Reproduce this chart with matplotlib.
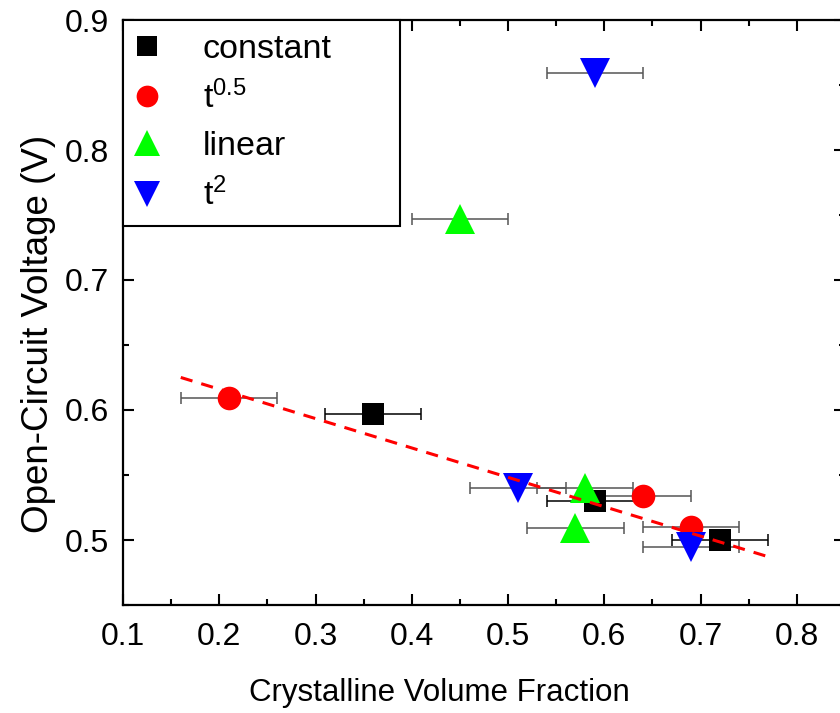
import numpy as np
import matplotlib
matplotlib.use('Agg')
import matplotlib.pyplot as plt
from matplotlib.ticker import MultipleLocator

plt.rcParams['font.family'] = ['Liberation Sans', 'DejaVu Sans']

# data
const_x = [0.36, 0.59, 0.72]
const_y = [0.597, 0.530, 0.500]
sqrt_x = [0.21, 0.64, 0.69]
sqrt_y = [0.609, 0.534, 0.510]
lin_x = [0.45, 0.58, 0.57]
lin_y = [0.747, 0.540, 0.509]
sq_x = [0.59, 0.51, 0.69]
sq_y = [0.859, 0.540, 0.495]
x_err = 0.05

# linear fit shown as dashed line
fit_slope = -0.226
fit_icpt = 0.6612
fit_range = [0.16, 0.77]

series = [
    (const_x, const_y, 's', 'black', 15.5, 'black', 'constant'),
    (sqrt_x, sqrt_y, 'o', 'red', 17, '#555555', r'$\mathregular{t^{0.5}}$'),
    (lin_x, lin_y, '^', '#00ff00', 21, '#555555', 'linear'),
    (sq_x, sq_y, 'v', 'blue', 21, '#555555', r'$\mathregular{t^{2}}$'),
]

fig = plt.figure(figsize=(8.4, 7.13), dpi=100)
ax = fig.add_axes([123/840, (713-605)/713, (845-123)/840, (605-20)/713])

for xs, ys, m, c, ms, ec, lab in series:
    ax.errorbar(xs, ys, xerr=x_err, fmt='none', ecolor=ec, elinewidth=1.1,
                capsize=4.5, capthick=1.1, zorder=2)
    ax.plot(xs, ys, linestyle='none', marker=m, color=c, markersize=ms,
            markeredgewidth=0, label=lab, zorder=3)

fx = np.array(fit_range)
ax.plot(fx, fit_icpt + fit_slope * fx, color='red', linestyle=(0, (4, 3)),
        linewidth=2.2, zorder=4)

ax.set_xlim(0.1, 0.85)
ax.set_ylim(0.45, 0.9)
ax.xaxis.set_major_locator(MultipleLocator(0.1))
ax.xaxis.set_minor_locator(MultipleLocator(0.05))
ax.yaxis.set_major_locator(MultipleLocator(0.1))
ax.yaxis.set_minor_locator(MultipleLocator(0.05))
ax.tick_params(which='both', direction='in', top=True, right=True, width=1.5,
               labelsize=23)
ax.tick_params(which='major', length=8)
ax.tick_params(which='minor', length=4.5)
ax.tick_params(axis='x', pad=12)
ax.tick_params(axis='y', pad=10)
for s in ax.spines.values():
    s.set_linewidth(1.6)

ax.set_xlabel('Crystalline Volume Fraction', fontsize=22.5)
ax.xaxis.set_label_coords((439-123)/(845-123), -0.125)
ax.set_ylabel('Open-Circuit Voltage (V)', fontsize=26.5)
ax.yaxis.set_label_coords(-0.093, (605-334)/585)

leg = ax.legend(loc='upper left', bbox_to_anchor=(0, 0, (400-123)/722, 1),
                mode='expand', borderaxespad=0, fontsize=24.5, frameon=True,
                fancybox=False, edgecolor='black', handletextpad=1.35,
                labelspacing=0.47, borderpad=0.4, handlelength=0.6,
                markerscale=0.92)
leg.get_frame().set_linewidth(1.5)
leg.get_frame().set_alpha(1)

fig.savefig('out.png', dpi=100)
